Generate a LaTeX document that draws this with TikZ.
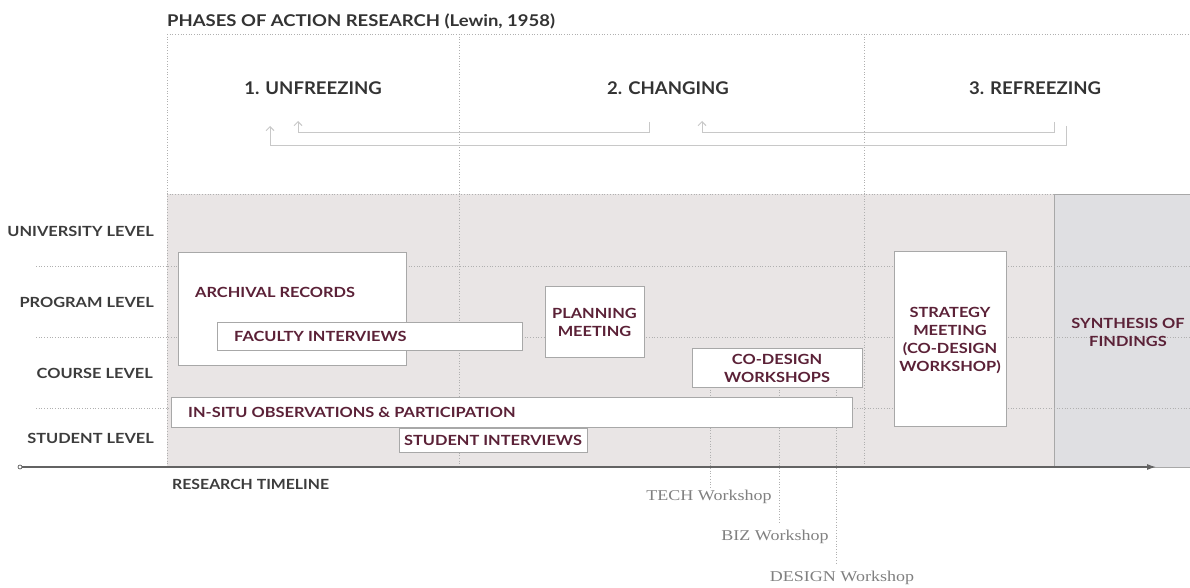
\documentclass[tikz,border=0pt]{standalone}
\usepackage{fontspec}
\setmainfont{Lato}
\newfontfamily\titlefont{Lato}[FakeStretch=1.14]
\newfontfamily\boxfont{Lato}[FakeStretch=1.17]
\newfontfamily\phasefont{Lato}[FakeStretch=1.06]
\newfontfamily\tlfont{Lato}[FakeStretch=1.13]
\newfontfamily\wsfont{Liberation Serif}[FakeStretch=1.2]
\usetikzlibrary{arrows.meta}
\definecolor{maroon}{HTML}{5B2137}
\definecolor{leveltxt}{HTML}{3C3C3C}
\definecolor{phasetxt}{HTML}{333333}
\definecolor{bggrey}{HTML}{E9E5E5}
\definecolor{synthgrey}{HTML}{DFDFE2}
\definecolor{dotgrey}{HTML}{B0B0B0}
\definecolor{boxline}{HTML}{A8A8A8}
\definecolor{brk}{HTML}{C8C8C8}
\definecolor{wstxt}{HTML}{808080}
\tikzset{
  dotline/.style={draw=dotgrey, dotted, line width=0.7pt},
  wbox/.style={draw=boxline, fill=white, line width=0.9pt, inner sep=0pt, anchor=north west},
  boxtext/.style={text=maroon, font=\boxfont\bfseries\fontsize{14}{18}\selectfont, inner sep=0pt, align=center},
  leveltext/.style={text=leveltxt, font=\boxfont\bfseries\fontsize{14}{17}\selectfont, inner sep=0pt, anchor=east},
  phasetext/.style={text=phasetxt, font=\phasefont\bfseries\fontsize{17.5}{20}\selectfont, inner sep=0pt},
  bracket/.style={draw=brk, line width=1pt, -{Straight Barb[length=4pt,width=8pt]}},
  wstext/.style={text=wstxt, font=\wsfont\fontsize{15}{18}\selectfont, inner sep=0pt},
  wsline/.style={draw=dotgrey, dotted, line width=0.7pt},
}
\begin{document}
\begin{tikzpicture}[x=1pt,y=-1pt]
\useasboundingbox (0,0) rectangle (1190,588);
% backgrounds
\fill[bggrey] (167,194) rectangle (1054,467);
\fill[synthgrey] (1054,194) rectangle (1190,467);
\draw[boxline, line width=1pt] (1190,194) -- (1054,194) -- (1054,467) -- (1190,467);
% title
\node[text=phasetxt, font=\titlefont\bfseries\fontsize{16.2}{18}\selectfont, inner sep=0pt, anchor=west] (title) at (167,21) {PHASES OF ACTION RESEARCH (Lewin, 1958)};
% dotted grid
\draw[dotline] (167,34) -- (1190,34);
\draw[dotline] (167,194) -- (1054,194);
\draw[dotline] (167,34) -- (167,467);
\draw[dotline] (459,34) -- (459,467);
\draw[dotline] (864,34) -- (864,465);
\draw[dotline] (36,266) -- (1190,266);
\draw[dotline] (36,337) -- (1190,337);
\draw[dotline] (36,408) -- (1190,408);
% phase labels
\node[phasetext] (p1) at (313,88) {1. UNFREEZING};
\node[phasetext] (p2) at (668,88) {2. CHANGING};
\node[phasetext] (p3) at (1035,88) {3. REFREEZING};
% brackets
\coordinate (b1s) at (649,122); \coordinate (b1a) at (649,133); \coordinate (b1b) at (298,133); \coordinate (b1e) at (298,121);
\coordinate (b2s) at (1054,122); \coordinate (b2a) at (1054,133); \coordinate (b2b) at (702,133); \coordinate (b2e) at (702,121);
\coordinate (b3s) at (1066,126); \coordinate (b3a) at (1066,146); \coordinate (b3b) at (270,146); \coordinate (b3e) at (270,126);
\draw[bracket] (b1s) -- (b1a) -- (b1b) -- (b1e);
\draw[bracket] (b2s) -- (b2a) -- (b2b) -- (b2e);
\draw[bracket] (b3s) -- (b3a) -- (b3b) -- (b3e);
% level labels
\node[leveltext] (lu) at (154,231) {UNIVERSITY LEVEL};
\node[leveltext] (lp) at (154,302) {PROGRAM LEVEL};
\node[leveltext] (lc) at (153,373) {COURSE LEVEL};
\node[leveltext] (ls) at (154,438) {STUDENT LEVEL};
% workshop lines
\coordinate (w1t) at (710,387); \coordinate (w1b) at (710,487);
\coordinate (w2t) at (779,387); \coordinate (w2b) at (779,523);
\coordinate (w3t) at (836,387); \coordinate (w3b) at (836,565);
\draw[wsline] (w1t) -- (w1b);
\draw[wsline] (w2t) -- (w2b);
\draw[wsline] (w3t) -- (w3b);
% boxes
\node[wbox, minimum width=228pt, minimum height=113pt] (arch) at (178,252) {};
\node[boxtext, anchor=west] (archt) at (195,292) {ARCHIVAL RECORDS};
\node[wbox, minimum width=305pt, minimum height=28pt] (fac) at (217,322) {};
\node[boxtext, anchor=west] (fact) at (234,336) {FACULTY INTERVIEWS};
\node[wbox, minimum width=99pt, minimum height=71pt] (plan) at (545,286) {};
\node[boxtext] (plant) at (594.5,322.5) {PLANNING\\MEETING};
\node[wbox, minimum width=681pt, minimum height=30pt] (insitu) at (171,397) {};
\node[boxtext, anchor=west] (insitut) at (188,412) {IN-SITU OBSERVATIONS \& PARTICIPATION};
\node[wbox, minimum width=188pt, minimum height=24pt] (stud) at (399,428) {};
\node[boxtext] (studt) at (493,440) {STUDENT INTERVIEWS};
\node[wbox, minimum width=170pt, minimum height=39pt] (codes) at (692,348) {};
\node[boxtext] (codest) at (777,368.5) {CO-DESIGN\\WORKSHOPS};
\node[wbox, minimum width=112pt, minimum height=175pt] (strat) at (894,251) {};
\node[boxtext] (stratt) at (950,340) {STRATEGY\\MEETING\\(CO-DESIGN\\WORKSHOP)};
\node[boxtext] (synth) at (1128,332) {SYNTHESIS OF\\FINDINGS};
% timeline
\node[circle, draw=leveltxt, line width=0.6pt, minimum size=4pt, inner sep=0pt] (t0) at (20,467) {};
\coordinate (t1) at (1156,467);
\draw[leveltxt!80, line width=1.1pt, -{Latex[length=9pt,width=6pt]}] (t0) -- (t1);
\node[text=leveltxt, font=\tlfont\bfseries\fontsize{14}{16}\selectfont, inner sep=0pt, anchor=west] (rt) at (172,484) {RESEARCH TIMELINE};
% workshop labels
\node[wstext] (w1) at (709,497) {TECH Workshop};
\node[wstext] (w2) at (775,537) {BIZ Workshop};
\node[wstext] (w3) at (842,578) {DESIGN Workshop};
\end{tikzpicture}
\end{document}
